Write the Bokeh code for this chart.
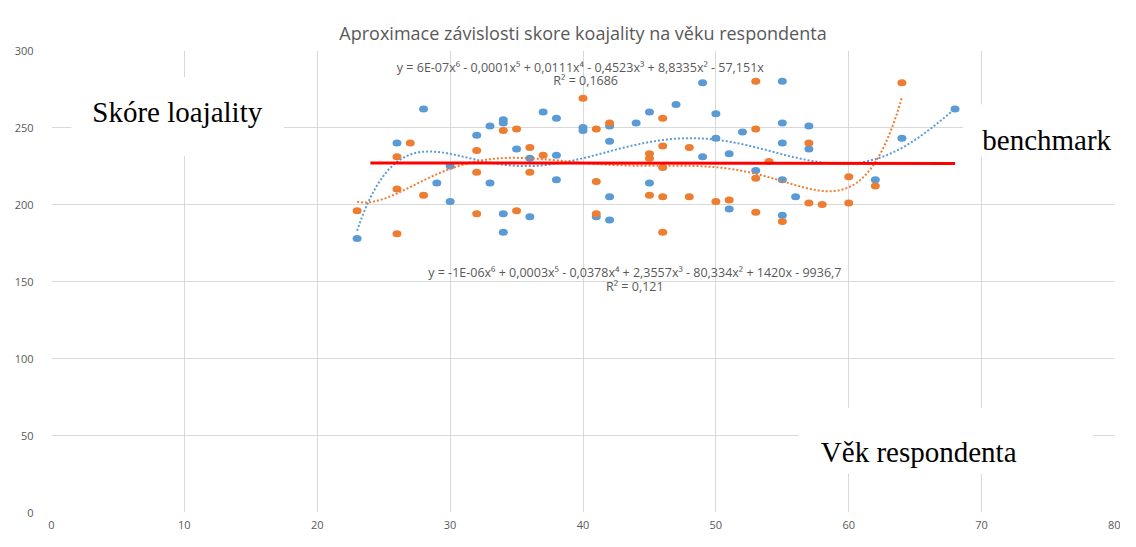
import numpy as np
from bokeh.plotting import figure
from bokeh.models import Range1d, FixedTicker
from bokeh.core.properties import value
from bokeh.embed import file_html
from bokeh.resources import INLINE

title_text = "Aproximace závislosti skore koajality na věku respondenta"

blue_age = [23, 26, 28, 29, 30, 30, 32, 33, 33, 34, 34, 34, 34, 35, 36, 36, 37, 38, 38, 38,
            40, 40, 41, 42, 42, 42, 42, 44, 45, 45, 47, 49, 49, 50, 50, 51, 51, 52, 53,
            55, 55, 55, 55, 55, 56, 57, 57, 62, 64, 68]
blue_score = [178, 240, 262, 214, 225, 202, 245, 251, 214, 255, 253, 194, 182, 236, 230, 192, 260, 256, 232, 216,
              250, 248, 192, 251, 241, 205, 190, 253, 260, 214, 265, 279, 231, 259, 243, 233, 197, 247, 222,
              280, 253, 240, 216, 193, 205, 251, 236, 216, 243, 262]

orange_age = [23, 26, 26, 26, 27, 28, 32, 32, 32, 34, 35, 35, 36, 36, 37, 40, 41, 41, 41, 42,
              45, 45, 45, 46, 46, 46, 46, 46, 48, 48, 50, 51, 53, 53, 53, 53, 54, 55,
              57, 57, 58, 60, 60, 62, 64]
orange_score = [196, 231, 210, 181, 240, 206, 235, 221, 194, 248, 249, 196, 237, 221, 232, 269, 249, 215, 194, 253,
                233, 230, 206, 256, 238, 224, 205, 182, 237, 205, 202, 203, 280, 249, 217, 195, 228, 189,
                240, 201, 200, 218, 201, 212, 279]

bench_age = [24, 68]
bench_score = [227, 226.6]

x_ticks = [0, 10, 20, 30, 40, 50, 60, 70, 80]
y_ticks = [0, 50, 100, 150, 200, 250, 300]

eq_upper = "y = 6E-07x⁶ - 0,0001x⁵ + 0,0111x⁴ - 0,4523x³ + 8,8335x² - 57,151x"
r2_upper = "R² = 0,1686"
eq_lower = "y = -1E-06x⁶ + 0,0003x⁵ - 0,0378x⁴ + 2,3557x³ - 80,334x² + 1420x - 9936,7"
r2_lower = "R² = 0,121"

label_y = "Skóre loajality"
label_bench = "benchmark"
label_x = "Věk respondenta"

BLUE = "#5b9bd5"
ORANGE = "#ed7d31"
GRID = "#d9d9d9"
TXT = "#595959"


def trend(ages, scores):
    poly = np.polynomial.Polynomial.fit(ages, scores, 6)
    xs = np.linspace(min(ages), max(ages), 300)
    return xs, poly(xs)


p = figure(width=1120, height=531, x_range=Range1d(0, 80), y_range=Range1d(0, 300),
           output_backend="svg", toolbar_location=None,
           min_border_left=51, min_border_right=6, min_border_top=50, min_border_bottom=15,
           title=title_text)
p.title.align = "center"
p.title.text_font = "Open Sans"
p.title.text_font_size = "18px"
p.title.text_font_style = "normal"
p.title.text_color = TXT
p.title.standoff = 12

p.background_fill_color = "white"
p.border_fill_color = "white"
p.outline_line_color = None

p.xaxis.ticker = FixedTicker(ticks=x_ticks)
p.yaxis.ticker = FixedTicker(ticks=y_ticks)
for ax in (p.xaxis, p.yaxis):
    ax.axis_line_color = None
    ax.major_tick_line_color = None
    ax.minor_tick_line_color = None
    ax.major_label_text_font = "Open Sans"
    ax.major_label_text_font_size = "11px"
    ax.major_label_text_color = TXT
p.xaxis.major_label_standoff = 2
p.yaxis.major_label_standoff = 12

p.xgrid.grid_line_color = GRID
p.ygrid.grid_line_color = GRID
p.xgrid.grid_line_width = 1
p.ygrid.grid_line_width = 1

# scatter points
p.ellipse(x=blue_age, y=blue_score, width=9, height=7, width_units="screen", height_units="screen",
          fill_color=BLUE, line_color=None)
p.ellipse(x=orange_age, y=orange_score, width=9, height=7, width_units="screen", height_units="screen",
          fill_color=ORANGE, line_color=None)

# polynomial trend lines (order 6)
bx, by = trend(blue_age, blue_score)
ox, oy = trend(orange_age, orange_score)
p.line(bx, by, line_color=BLUE, line_width=2, line_dash="2 2")
p.line(ox, oy, line_color=ORANGE, line_width=2, line_dash="2 2")

# equation labels
eq_font = value("Open Sans")
p.text(x=[39.8], y=[288.8], text=[eq_upper], text_font=eq_font, text_font_size="12.5px",
       text_color=TXT, text_align="center", text_baseline="middle")
p.text(x=[40.2], y=[280.6], text=[r2_upper], text_font=eq_font, text_font_size="12.5px",
       text_color=TXT, text_align="center", text_baseline="middle")
p.text(x=[43.9], y=[155.9], text=[eq_lower], text_font=eq_font, text_font_size="12.5px",
       text_color=TXT, text_align="center", text_baseline="middle")
p.text(x=[43.9], y=[147.0], text=[r2_lower], text_font=eq_font, text_font_size="12.5px",
       text_color=TXT, text_align="center", text_baseline="middle")

# benchmark line
p.line(bench_age, bench_score, line_color="#ff0000", line_width=3)

# white text boxes
p.quad(left=[1.5], right=[17.5], top=[282.6], bottom=[231.3], fill_color="white", line_color=None)
p.quad(left=[68.6], right=[81], top=[265], bottom=[231], fill_color="white", line_color=None)
p.quad(left=[56.2], right=[78.4], top=[68], bottom=[25.3], fill_color="white", line_color=None)

serif = value("Liberation Serif")
p.text(x=[3.07], y=[259.8], text=[label_y], text_font=serif, text_font_size="29px",
       text_color="black", text_align="left", text_baseline="alphabetic")
p.text(x=[70.05], y=[241.8], text=[label_bench], text_font=serif, text_font_size="29px",
       text_color="black", text_align="left", text_baseline="alphabetic")
p.text(x=[57.9], y=[39.5], text=[label_x], text_font=serif, text_font_size="29px",
       text_color="black", text_align="left", text_baseline="alphabetic")

open("out.html", "w").write(file_html(p, INLINE))
